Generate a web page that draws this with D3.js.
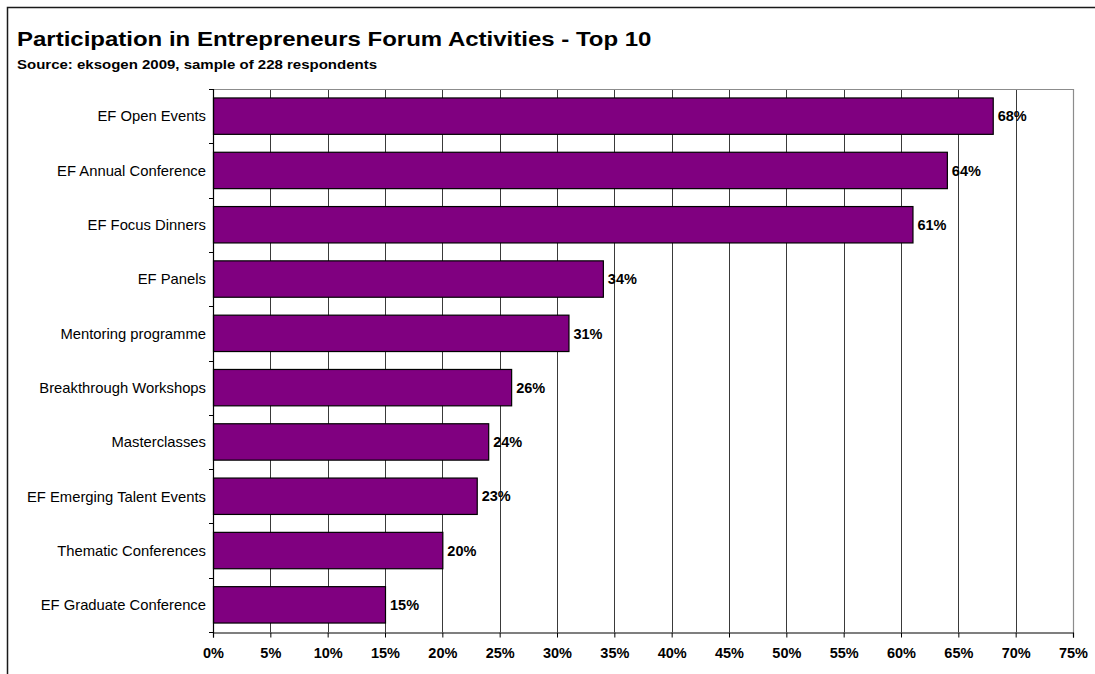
<!DOCTYPE html>
<html>
<head>
<meta charset="utf-8">
<script src="https://cdn.jsdelivr.net/npm/d3@7/dist/d3.min.js"></script>
<style>
  html, body { margin: 0; padding: 0; background: #fff; }
  svg { display: block; font-family: Arial, "Liberation Sans", sans-serif; }
</style>
</head>
<body>
<svg id="chart" width="1095" height="674"></svg>
<script>
// Activities, top to bottom
const categories = [
  "EF Open Events",
  "EF Annual Conference",
  "EF Focus Dinners",
  "EF Panels",
  "Mentoring programme",
  "Breakthrough Workshops",
  "Masterclasses",
  "EF Emerging Talent Events",
  "Thematic Conferences",
  "EF Graduate Conference"
];
// Share of respondents (%)
const values = [68, 64, 61, 34, 31, 26, 24, 23, 20, 15];
// X axis ticks (%)
const xTicks = [0, 5, 10, 15, 20, 25, 30, 35, 40, 45, 50, 55, 60, 65, 70, 75];

const title = "Participation in Entrepreneurs Forum Activities - Top 10";
const subtitle = "Source: eksogen 2009, sample of 228 respondents";

const svg = d3.select("#chart");
const W = 1095, H = 674;
const plot = { left: 213, right: 1073, top: 89, bottom: 632 };

// Outer frame of the chart (extends past the right/bottom edges)
svg.append("path")
  .attr("d", `M7.5,${H + 2} V7.5 H${W + 2}`)
  .attr("fill", "none")
  .attr("stroke", "#1a1a1a")
  .attr("stroke-width", 1.5);

// Title block (slightly widened lettering)
svg.append("text")
  .attr("transform", "translate(17,46) scale(1.2,1)")
  .attr("font-size", 20).attr("font-weight", "bold")
  .attr("fill", "#000")
  .text(title);

svg.append("text")
  .attr("transform", "translate(17,69) scale(1.25,1)")
  .attr("font-size", 12).attr("font-weight", "bold")
  .attr("fill", "#000")
  .text(subtitle);

const x = d3.scaleLinear().domain([0, 75]).range([plot.left, plot.right]);
const y = d3.scaleBand().domain(categories).range([plot.top, plot.bottom]).paddingInner(0.33).paddingOuter(0.165);
const yEdges = d3.scaleLinear().domain([0, categories.length]).range([plot.top, plot.bottom]);

// Vertical gridlines
svg.append("g")
  .selectAll("line")
  .data(xTicks.filter(t => t > 0 && t < 75))
  .join("line")
  .attr("x1", d => Math.round(x(d)) + 0.5)
  .attr("x2", d => Math.round(x(d)) + 0.5)
  .attr("y1", plot.top).attr("y2", plot.bottom)
  .attr("stroke", "#3a3a3a").attr("stroke-width", 1);

// Plot area border (top and right)
svg.append("path")
  .attr("d", `M${plot.left},${plot.top + 0.5} H${Math.round(plot.right) + 0.5} V${plot.bottom}`)
  .attr("fill", "none")
  .attr("stroke", "#8c8c8c").attr("stroke-width", 1.2);

// Bars
svg.append("g")
  .selectAll("rect")
  .data(categories.map((c, i) => ({ c, v: values[i] })))
  .join("rect")
  .attr("x", x(0) + 0.5)
  .attr("y", d => y(d.c))
  .attr("width", d => x(d.v) - x(0))
  .attr("height", y.bandwidth())
  .attr("fill", "#800080")
  .attr("stroke", "#000").attr("stroke-width", 1.2);

// Value labels
svg.append("g")
  .selectAll("text")
  .data(categories.map((c, i) => ({ c, v: values[i] })))
  .join("text")
  .attr("x", d => x(d.v) + 5)
  .attr("y", d => y(d.c) + y.bandwidth() / 2)
  .attr("dy", "0.36em")
  .attr("font-size", 14.5).attr("font-weight", "bold")
  .attr("fill", "#000")
  .text(d => d.v + "%");

// X axis
const xAxis = d3.axisBottom(x)
  .tickValues(xTicks)
  .tickFormat(d => d + "%")
  .tickSize(5)
  .tickPadding(10);
const gx = svg.append("g")
  .attr("transform", `translate(0,${plot.bottom + 0.5})`)
  .call(xAxis);
gx.select(".domain").attr("stroke", "#000").attr("stroke-width", 1.2);
gx.selectAll(".tick line").attr("stroke", "#000");
gx.selectAll(".tick text")
  .attr("font-size", 14.5).attr("font-weight", "bold")
  .attr("font-family", "Arial, 'Liberation Sans', sans-serif")
  .attr("fill", "#000");

// Y axis: line with ticks at category boundaries
const gy = svg.append("g");
gy.append("line")
  .attr("x1", plot.left + 0.5).attr("x2", plot.left + 0.5)
  .attr("y1", plot.top).attr("y2", plot.bottom + 1)
  .attr("stroke", "#000").attr("stroke-width", 1.2);
gy.selectAll("line.tk")
  .data(d3.range(categories.length + 1))
  .join("line")
  .attr("class", "tk")
  .attr("x1", plot.left - 4).attr("x2", plot.left)
  .attr("y1", d => Math.round(yEdges(d)) + 0.5)
  .attr("y2", d => Math.round(yEdges(d)) + 0.5)
  .attr("stroke", "#000");
gy.selectAll("text")
  .data(categories)
  .join("text")
  .attr("x", plot.left - 7)
  .attr("y", d => y(d) + y.bandwidth() / 2)
  .attr("dy", "0.36em")
  .attr("text-anchor", "end")
  .attr("font-size", 14.8)
  .attr("fill", "#000")
  .text(d => d);
</script>
</body>
</html>
